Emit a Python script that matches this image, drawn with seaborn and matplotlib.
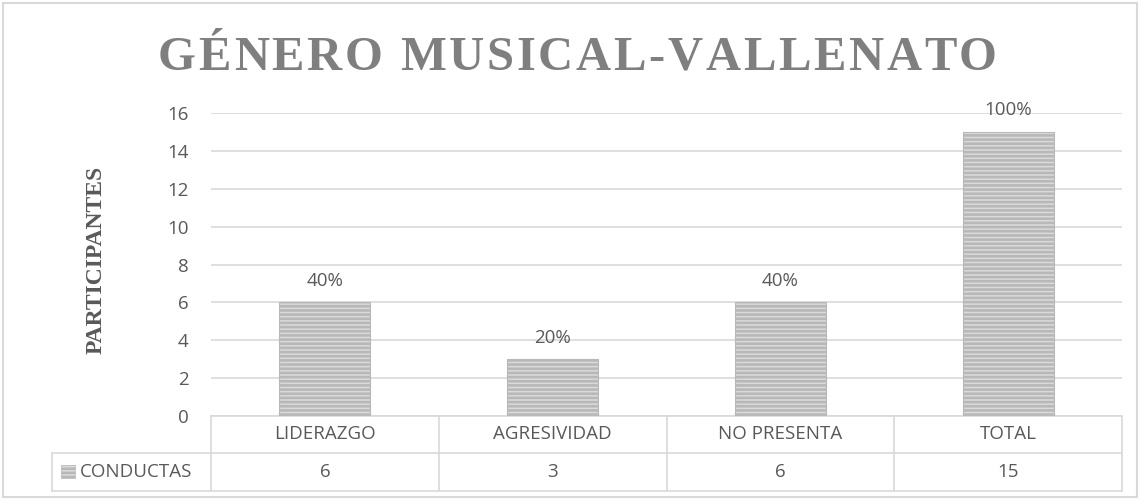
import numpy as np
import pandas as pd
import matplotlib
matplotlib.use('Agg')
import matplotlib.pyplot as plt
from matplotlib.patches import Rectangle
from matplotlib.lines import Line2D
import matplotlib.transforms as mtransforms
import seaborn as sns

# datos
categorias = ['LIDERAZGO', 'AGRESIVIDAD', 'NO PRESENTA', 'TOTAL']
valores = [6, 3, 6, 15]
porcentajes = ['40%', '20%', '40%', '100%']
serie = 'CONDUCTAS'
titulo = 'GÉNERO MUSICAL-VALLENATO'
eje_y = 'PARTICIPANTES'

sns.set_style('white')
plt.rcParams['font.family'] = ['Open Sans', 'DejaVu Sans']
plt.rcParams['hatch.color'] = '#a0a0a0'
plt.rcParams['hatch.linewidth'] = 1.9

gris_txt = '#595959'
gris_lin = '#d9d9d9'
fs = 13.5

W, H = 1141, 500
fig = plt.figure(figsize=(W / 100, H / 100), dpi=100)

def fx(px):
    return px / W

def fy(py):
    return 1 - py / H

x0, x1, ytop, ybot = 211, 1122, 113, 416
ax = fig.add_axes([fx(x0), fy(ybot), fx(x1) - fx(x0), (ybot - ytop) / H])

df = pd.DataFrame({'categoria': categorias, 'valor': valores})
sns.barplot(data=df, x='categoria', y='valor', ax=ax, width=0.4,
            color='#dadada', saturation=1, hatch='----',
            edgecolor='#b8b8b8', linewidth=0.8, zorder=3)

ax.bar_label(ax.containers[0], labels=porcentajes, padding=9,
             fontsize=fs, color=gris_txt)

ax.set_ylim(0, 16)
ax.set_xlim(-0.5, len(categorias) - 0.5)
ax.set_yticks(np.arange(0, 17, 2))
ax.tick_params(axis='y', length=0, pad=16, labelsize=fs, labelcolor=gris_txt)
ax.set_xticks([])
ax.set_xlabel('')
ax.yaxis.grid(True, color=gris_lin, lw=1.2, zorder=0)
ax.set_axisbelow(True)
for s in ['top', 'right', 'left']:
    ax.spines[s].set_visible(False)
ax.spines['bottom'].set_color(gris_lin)
ax.spines['bottom'].set_linewidth(1.2)

ax.set_ylabel(eje_y, family='Liberation Serif', fontweight='bold',
              fontsize=17, color=gris_txt)
ax.yaxis.set_label_coords((107 - x0) / (x1 - x0), 0.515)

# titulo con espaciado entre letras
renderer = fig.canvas.get_renderer()
tk = dict(family='Liberation Serif', fontweight='bold', fontsize=35,
          color='#7f7f7f', va='baseline', ha='left')
letras = []
for ch in titulo:
    t = fig.text(0, fy(70), ch if ch != ' ' else '\u00a0', **tk)
    letras.append(t)
anchos = []
for ch, t in zip(titulo, letras):
    if ch == ' ':
        anchos.append(35 * 1.389 * 0.25)
    else:
        anchos.append(t.get_window_extent(renderer).width)
t_ini, t_fin = 158, 997
extra = (t_fin - t_ini - sum(anchos)) / (len(titulo) - 1)
pos = t_ini
for t, w in zip(letras, anchos):
    t.set_x(fx(pos))
    pos += w + extra

# tabla de datos
leg_x = 52
fila1, fila2, fila3 = 416, 452.5, 491
cols = [x0 + i * (x1 - x0) / len(categorias) for i in range(len(categorias) + 1)]
lk = dict(color=gris_lin, lw=1.2, transform=fig.transFigure)
for c in cols:
    fig.add_artist(Line2D([fx(c), fx(c)], [fy(fila1), fy(fila3)], **lk))
fig.add_artist(Line2D([fx(leg_x), fx(x1)], [fy(fila2), fy(fila2)], **lk))
fig.add_artist(Line2D([fx(leg_x), fx(x1)], [fy(fila3), fy(fila3)], **lk))
fig.add_artist(Line2D([fx(leg_x), fx(leg_x)], [fy(fila2), fy(fila3)], **lk))

trans = mtransforms.blended_transform_factory(ax.transData, fig.transFigure)
for i, (cat, val) in enumerate(zip(categorias, valores)):
    fig.text(i, fy((fila1 + fila2) / 2), cat, transform=trans, ha='center',
             va='center', fontsize=fs, color=gris_txt)
    fig.text(i, fy((fila2 + fila3) / 2), str(val), transform=trans,
             ha='center', va='center', fontsize=fs, color=gris_txt)

fig.add_artist(Rectangle((fx(61), fy(478)), fx(14), 13 / H,
                         transform=fig.transFigure, facecolor='#dadada',
                         hatch='----', edgecolor='#b8b8b8', lw=0.5))
fig.text(fx(80), fy((fila2 + fila3) / 2), serie, ha='left', va='center',
         fontsize=fs, color=gris_txt)

# marco exterior
fig.add_artist(Rectangle((fx(3), fy(497)), fx(1134), 494 / H,
                         transform=fig.transFigure, fill=False,
                         edgecolor=gris_lin, lw=1.5))

fig.savefig('out.png', dpi=100)
